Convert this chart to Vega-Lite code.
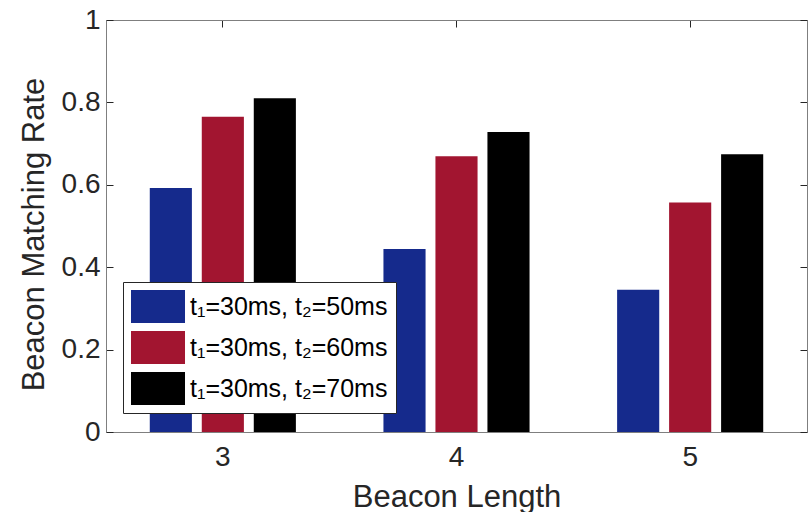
{
  "$schema": "https://vega.github.io/schema/vega-lite/v6.json",
  "width": 701,
  "height": 412,
  "autosize": "none",
  "padding": {"left": 106, "top": 20, "right": 5, "bottom": 80},
  "background": "white",
  "config": {
    "font": "Liberation Sans",
    "view": {"stroke": "#7f7f7f", "strokeWidth": 1},
    "axis": {
      "domainColor": "#7f7f7f",
      "tickColor": "#262626",
      "tickSize": -7,
      "labelColor": "#262626",
      "labelFontSize": 28,
      "titleColor": "#262626",
      "titleFontSize": 31,
      "titleFontWeight": "normal",
      "grid": false
    }
  },
  "data": {
    "values": [
      {"length": 3, "series": "t₁=30ms, t₂=50ms", "rate": 0.592},
      {"length": 3, "series": "t₁=30ms, t₂=60ms", "rate": 0.765},
      {"length": 3, "series": "t₁=30ms, t₂=70ms", "rate": 0.810},
      {"length": 4, "series": "t₁=30ms, t₂=50ms", "rate": 0.444},
      {"length": 4, "series": "t₁=30ms, t₂=60ms", "rate": 0.669},
      {"length": 4, "series": "t₁=30ms, t₂=70ms", "rate": 0.728},
      {"length": 5, "series": "t₁=30ms, t₂=50ms", "rate": 0.345},
      {"length": 5, "series": "t₁=30ms, t₂=60ms", "rate": 0.557},
      {"length": 5, "series": "t₁=30ms, t₂=70ms", "rate": 0.674}
    ]
  },
  "layer": [
    {
      "mark": {"type": "bar"},
      "encoding": {
        "x": {
          "field": "length", "type": "ordinal",
          "scale": {"paddingInner": 0, "paddingOuter": 0},
          "axis": {"orient": "bottom", "title": "Beacon Length", "labelAngle": 0, "labelPadding": 18, "titleX": 350.5, "titleY": 74, "titleBaseline": "alphabetic", "titleAlign": "center"}
        },
        "xOffset": {
          "field": "series", "type": "nominal",
          "scale": {"paddingInner": 0.19, "paddingOuter": 0.842}
        },
        "y": {
          "field": "rate", "type": "quantitative",
          "scale": {"domain": [0, 1], "nice": false},
          "axis": {"orient": "left", "title": "Beacon Matching Rate", "values": [0, 0.2, 0.4, 0.6, 0.8, 1], "labelPadding": 13, "titleX": -63, "titleY": 214, "titleAngle": -90, "titleBaseline": "alphabetic", "titleAlign": "center", "format": "~g"}
        },
        "color": {
          "field": "series", "type": "nominal",
          "scale": {"range": ["#152a8c", "#a21530", "#000000"]},
          "legend": {
            "title": null,
            "orient": "none",
            "legendX": 17,
            "legendY": 262,
            "strokeColor": "#262626",
            "fillColor": "white",
            "padding": 8,
            "symbolType": "M-1,-1L2.273,-1L2.273,1L-1,1Z",
            "symbolSize": 1089,
            "symbolOpacity": 1,
            "symbolStrokeWidth": 0,
            "labelFontSize": 25,
            "labelColor": "#000000",
            "labelOffset": 26,
            "labelLimit": 400,
            "rowPadding": 8
          }
        }
      }
    },
    {
      "mark": {"type": "bar", "opacity": 0},
      "encoding": {
        "x": {
          "field": "length", "type": "ordinal",
          "axis": {"orient": "top", "title": null, "labels": false}
        },
        "y": {
          "field": "rate", "type": "quantitative",
          "axis": {"orient": "right", "title": null, "labels": false, "values": [0, 0.2, 0.4, 0.6, 0.8, 1]}
        }
      }
    }
  ],
  "resolve": {"axis": {"x": "independent", "y": "independent"}}
}
